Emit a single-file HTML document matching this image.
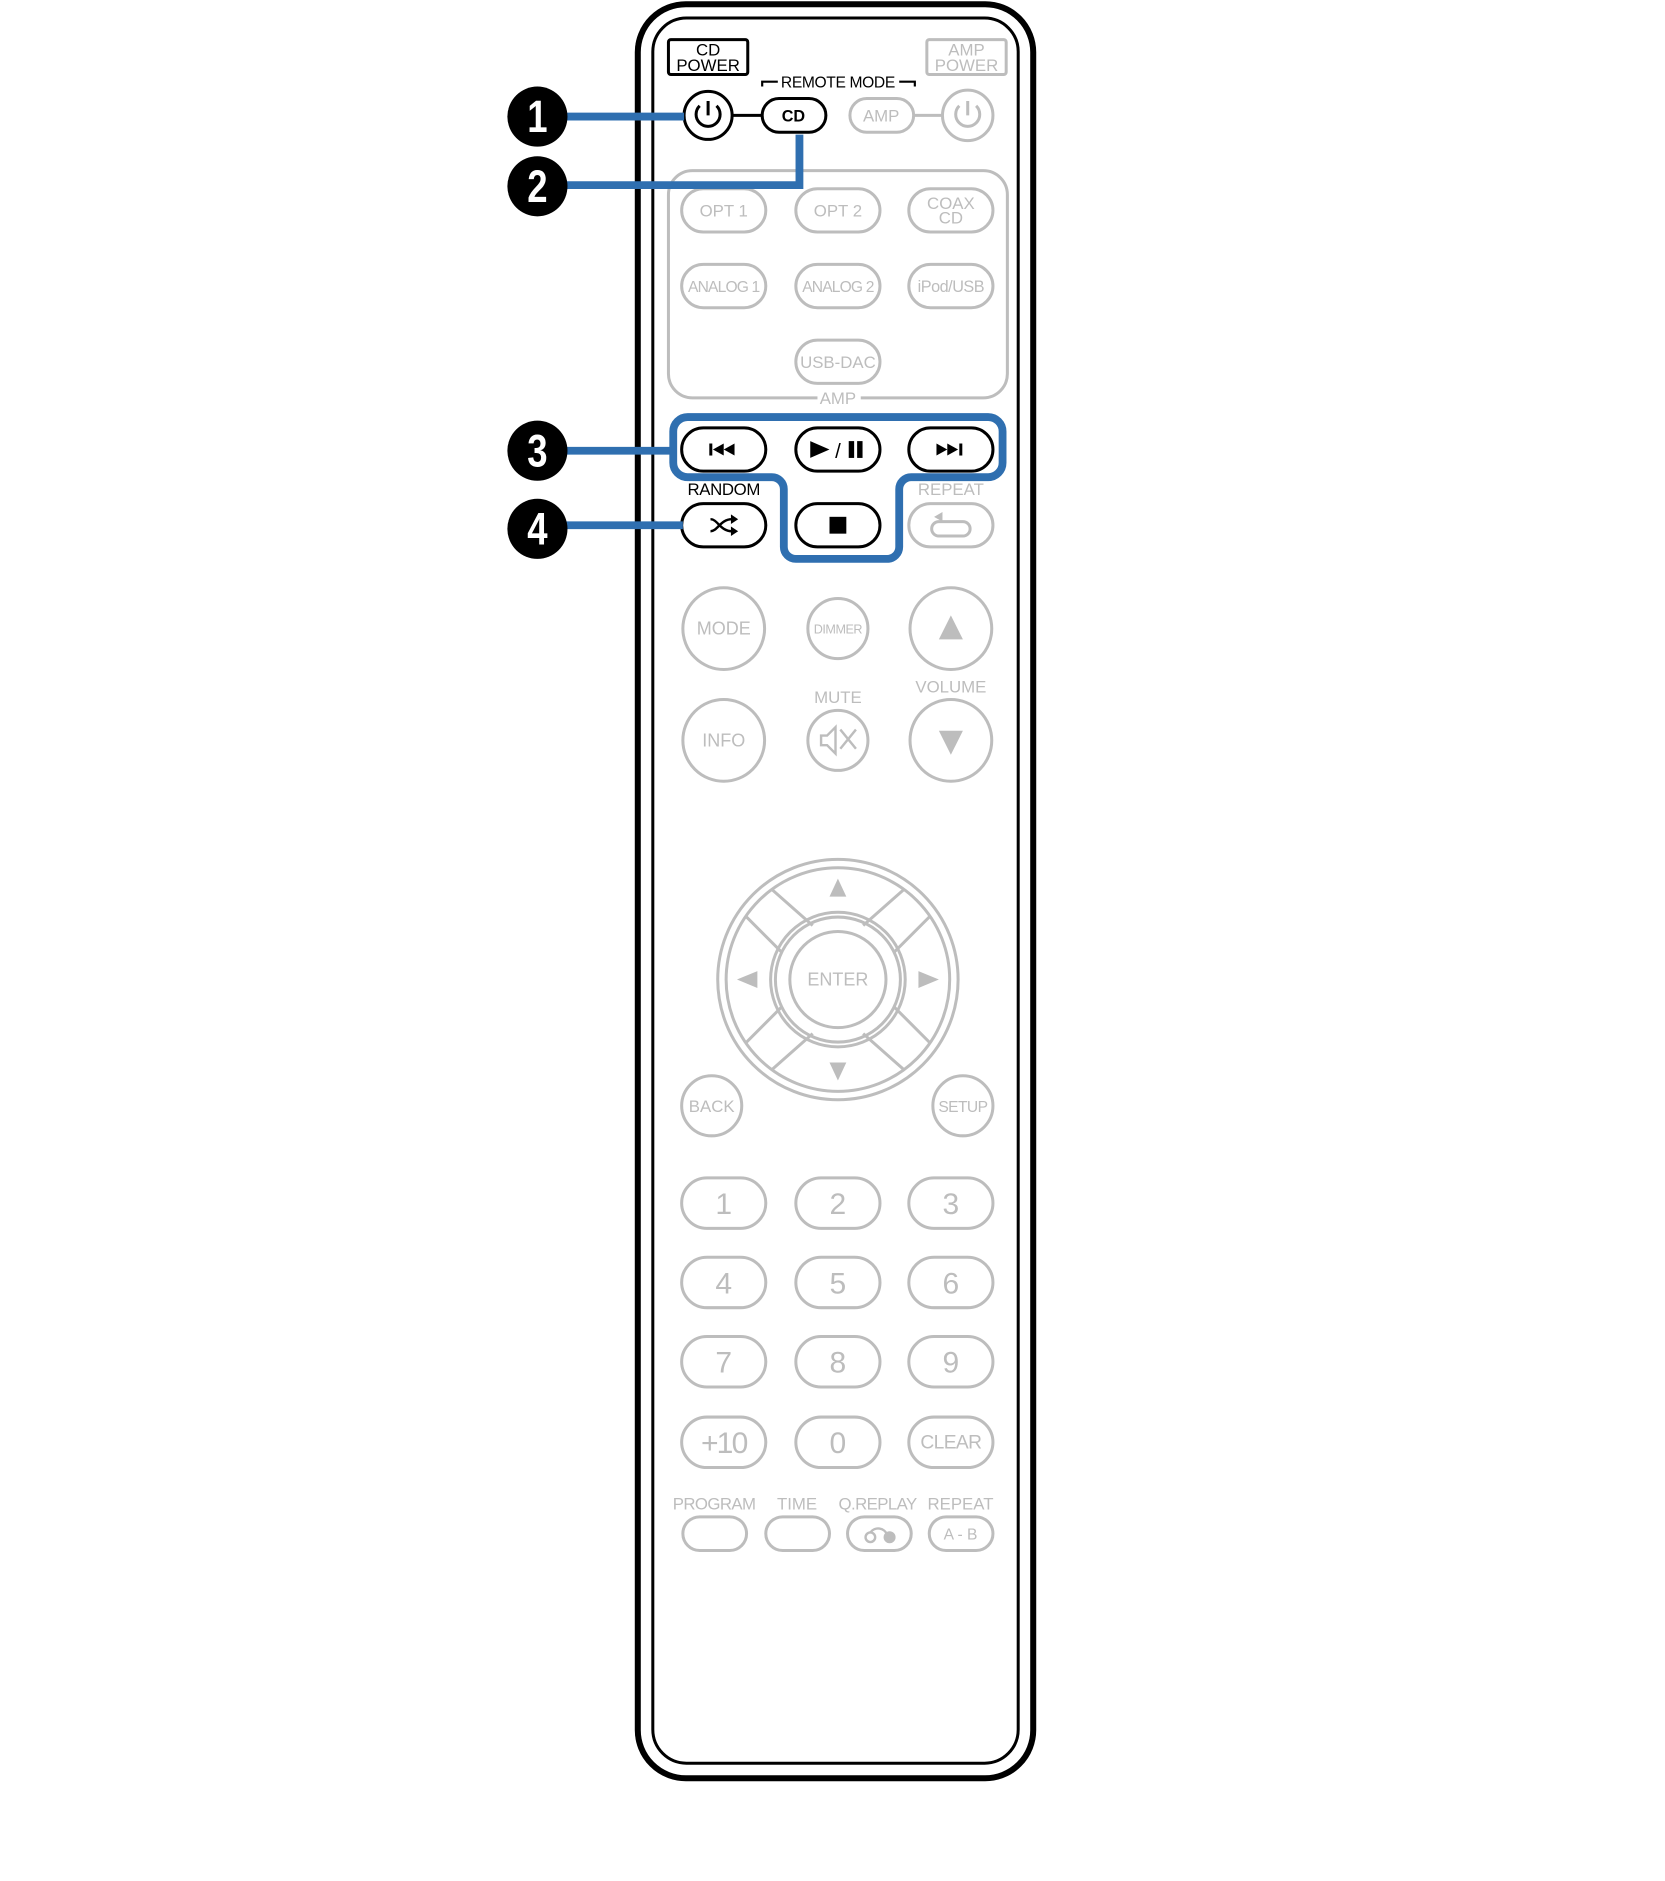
<!DOCTYPE html>
<html><head><meta charset="utf-8"><style>
html,body{margin:0;padding:0;background:#fff}
svg{display:block}
text{font-family:"Liberation Sans",Arial,sans-serif}
</style></head><body>
<svg width="1665" height="1881" viewBox="0 0 1385 1565" xmlns="http://www.w3.org/2000/svg">
<rect x="530.5" y="3.5" width="329" height="1476" rx="40" fill="none" stroke="#000" stroke-width="5"/>
<rect x="543" y="15" width="304" height="1452" rx="28" fill="none" stroke="#000" stroke-width="2.5"/>

<g fill="none" stroke="#bdbdbd" stroke-width="2.5">
<rect x="771" y="33" width="66" height="29" rx="2"/>
<rect x="707" y="82" width="53" height="28" rx="14"/>
<line x1="760" y1="96" x2="784" y2="96"/>
<circle cx="805" cy="96" r="21"/>
<path d="M680 331 H576 a20 20 0 0 1 -20 -20 V162 a20 20 0 0 1 20 -20 H818 a20 20 0 0 1 20 20 V311 a20 20 0 0 1 -20 20 H716"/>
<rect x="567" y="157" width="70" height="36" rx="18"/>
<rect x="662" y="157" width="70" height="36" rx="18"/>
<rect x="756" y="157" width="70" height="36" rx="18"/>
<rect x="567" y="220" width="70" height="36" rx="18"/>
<rect x="662" y="220" width="70" height="36" rx="18"/>
<rect x="756" y="220" width="70" height="36" rx="18"/>
<rect x="662" y="283" width="70" height="36" rx="18"/>
<rect x="756" y="419" width="70" height="36" rx="18"/>
<circle cx="602" cy="523" r="34"/><circle cx="697" cy="523" r="25"/><circle cx="791" cy="523" r="34"/>
<circle cx="602" cy="616" r="34"/><circle cx="697" cy="616" r="25"/><circle cx="791" cy="616" r="34"/>
<circle cx="697" cy="815" r="100"/><circle cx="697" cy="815" r="93"/>
<circle cx="697" cy="815" r="56"/><circle cx="697" cy="815" r="52"/><circle cx="697" cy="815" r="40"/>
<path d="M642 740 L676 770 M752 740 L718 770 M642 890 L676 860 M752 890 L718 860 M620 762 L650 792 M774 762 L744 792 M620 868 L650 838 M774 868 L744 838"/>
<circle cx="592" cy="920" r="25"/><circle cx="801" cy="920" r="25"/>
<rect x="567" y="980" width="70" height="42" rx="21"/><rect x="662" y="980" width="70" height="42" rx="21"/><rect x="756" y="980" width="70" height="42" rx="21"/>
<rect x="567" y="1046" width="70" height="42" rx="21"/><rect x="662" y="1046" width="70" height="42" rx="21"/><rect x="756" y="1046" width="70" height="42" rx="21"/>
<rect x="567" y="1112" width="70" height="42" rx="21"/><rect x="662" y="1112" width="70" height="42" rx="21"/><rect x="756" y="1112" width="70" height="42" rx="21"/>
<rect x="567" y="1179" width="70" height="42" rx="21"/><rect x="662" y="1179" width="70" height="42" rx="21"/><rect x="756" y="1179" width="70" height="42" rx="21"/>
<rect x="568" y="1262" width="53" height="28" rx="14"/><rect x="637" y="1262" width="53" height="28" rx="14"/><rect x="705" y="1262" width="53" height="28" rx="14"/><rect x="773" y="1262" width="53" height="28" rx="14"/>
<path d="M805 84 V96 M798 88 a10 10 0 1 0 14 0"/>
<path d="M781 434 h20 a6 6 0 0 1 0 12 h-20 a6 6 0 0 1 0 -12"/>
<path d="M683 612 h5 l7 -7 v22 l-7 -7 h-5 z M699 607 l13 16 M712 607 l-13 16" stroke-width="2"/>
<circle cx="724" cy="1279" r="4" stroke-width="2"/><path d="M724 1275 a8 8 0 0 1 14 2" stroke-width="2"/>
</g>
<g fill="#bdbdbd">
<polygon points="791,512 781,532 801,532"/><polygon points="791,628 781,608 801,608"/>
<polygon points="697,731 690,746 704,746"/><polygon points="697,899 690,884 704,884"/>
<polygon points="613,815 630,808 630,822"/><polygon points="781,815 764,808 764,822"/>
<circle cx="740" cy="1279" r="5"/>
<polygon points="777,430 784,426 784,434"/>
</g>
<g fill="#bdbdbd" text-anchor="middle" font-size="14">
<text x="804" y="46">AMP</text><text x="804" y="59">POWER</text>
<text x="733" y="101">AMP</text>
<text x="697" y="336">AMP</text>
<text x="602" y="180">OPT 1</text><text x="697" y="180">OPT 2</text>
<text x="791" y="174">COAX</text><text x="791" y="186">CD</text>
<text x="602" y="243" letter-spacing="-0.7" font-size="13">ANALOG 1</text><text x="697" y="243" letter-spacing="-0.7" font-size="13">ANALOG 2</text><text x="791" y="243" font-size="13.5" letter-spacing="-0.4">iPod/USB</text>
<text x="697" y="306">USB-DAC</text>
<text x="791" y="412">REPEAT</text>
<text x="602" y="528" font-size="15">MODE</text><text x="697" y="527" font-size="10.5" letter-spacing="-0.4">DIMMER</text>
<text x="791" y="576">VOLUME</text><text x="697" y="585">MUTE</text>
<text x="602" y="621" font-size="15">INFO</text>
<text x="697" y="820" font-size="15">ENTER</text>
<text x="592" y="925">BACK</text><text x="801" y="925" font-size="13" letter-spacing="-0.5">SETUP</text>
<g font-size="25"><text x="602" y="1010">1</text><text x="697" y="1010">2</text><text x="791" y="1010">3</text>
<text x="602" y="1076">4</text><text x="697" y="1076">5</text><text x="791" y="1076">6</text>
<text x="602" y="1142">7</text><text x="697" y="1142">8</text><text x="791" y="1142">9</text>
<text x="602" y="1209" letter-spacing="-1.5">+10</text><text x="697" y="1209">0</text></g>
<text x="791" y="1205" font-size="16" letter-spacing="-0.5">CLEAR</text>
<text x="594" y="1256" letter-spacing="-0.5">PROGRAM</text><text x="663" y="1256">TIME</text><text x="730" y="1256" letter-spacing="-0.5">Q.REPLAY</text><text x="799" y="1256">REPEAT</text>
<text x="799" y="1281" font-size="13">A - B</text>
</g>

<g fill="none" stroke="#000" stroke-width="2.5">
<rect x="556" y="33" width="66" height="29" rx="2"/>
<circle cx="589" cy="96" r="20"/>
<line x1="609" y1="96" x2="634" y2="96"/>
<rect x="634" y="82" width="53" height="28" rx="14"/>
<path d="M634 72 V68 H647 M748 68 H761 V72" stroke-width="1.8"/>
<path d="M589 84 V96 M582 88 a10 10 0 1 0 14 0" stroke-width="2.5"/>
<rect x="567" y="356" width="70" height="36" rx="18"/>
<rect x="662" y="356" width="70" height="36" rx="18"/>
<rect x="756" y="356" width="70" height="36" rx="18"/>
<rect x="567" y="419" width="70" height="36" rx="18"/>
<rect x="662" y="419" width="70" height="36" rx="18"/>
<path d="M591 432 c6 0 8 10 18 10 M591 442 c6 0 8 -10 18 -10" stroke-width="2"/>
</g>
<g fill="#000">
<rect x="590" y="369" width="2.5" height="10"/><polygon points="593,374 602,369 602,379"/><polygon points="602,374 611,369 611,379"/>
<polygon points="779,369 788,374 779,379"/><polygon points="788,369 797,374 788,379"/><rect x="798" y="369" width="2.5" height="10"/>
<polygon points="674,367 690,374 674,381"/><text x="697" y="381" font-size="17" text-anchor="middle">/</text>
<rect x="706" y="367" width="4.5" height="14"/><rect x="713" y="367" width="4.5" height="14"/>
<rect x="690" y="430" width="14" height="14"/>
<polygon points="608,428 614,432 608,436"/><polygon points="608,438 614,442 608,446"/>
</g>
<g fill="#000" text-anchor="middle" font-size="14">
<text x="589" y="46">CD</text><text x="589" y="59">POWER</text>
<text x="660" y="101" font-weight="bold" font-size="13.5">CD</text>
<text x="697" y="73" font-size="13" letter-spacing="-0.3">REMOTE MODE</text>
<text x="602" y="412" letter-spacing="-0.3">RANDOM</text>
</g>

<g fill="none" stroke="#2f6fb0" stroke-width="6.5">
<line x1="470" y1="97" x2="569" y2="97"/>
<path d="M470 154 H665 V112"/>
<line x1="470" y1="375" x2="559" y2="375"/>
<line x1="470" y1="437" x2="568" y2="437"/>
<path d="M572 347 H822 a12 12 0 0 1 12 12 V385 a12 12 0 0 1 -12 12 H758 a10 10 0 0 0 -10 10 V455 a10 10 0 0 1 -10 10 H662 a10 10 0 0 1 -10 -10 V407 a10 10 0 0 0 -10 -10 H572 a12 12 0 0 1 -12 -12 V359 a12 12 0 0 1 12 -12 Z"/>
</g>
<g>
<circle cx="447" cy="97" r="25"/><circle cx="447" cy="155" r="25"/><circle cx="447" cy="375" r="25"/><circle cx="447" cy="440" r="25"/>
</g>
<g fill="#fff" text-anchor="middle" font-size="38" font-weight="bold">
<text x="447" y="110" transform="scale(0.8 1) translate(111.75 0)">1</text>
<text x="447" y="168" transform="scale(0.8 1) translate(111.75 0)">2</text>
<text x="447" y="388" transform="scale(0.8 1) translate(111.75 0)">3</text>
<text x="447" y="453" transform="scale(0.8 1) translate(111.75 0)">4</text>
</g>
</svg>
</body></html>
